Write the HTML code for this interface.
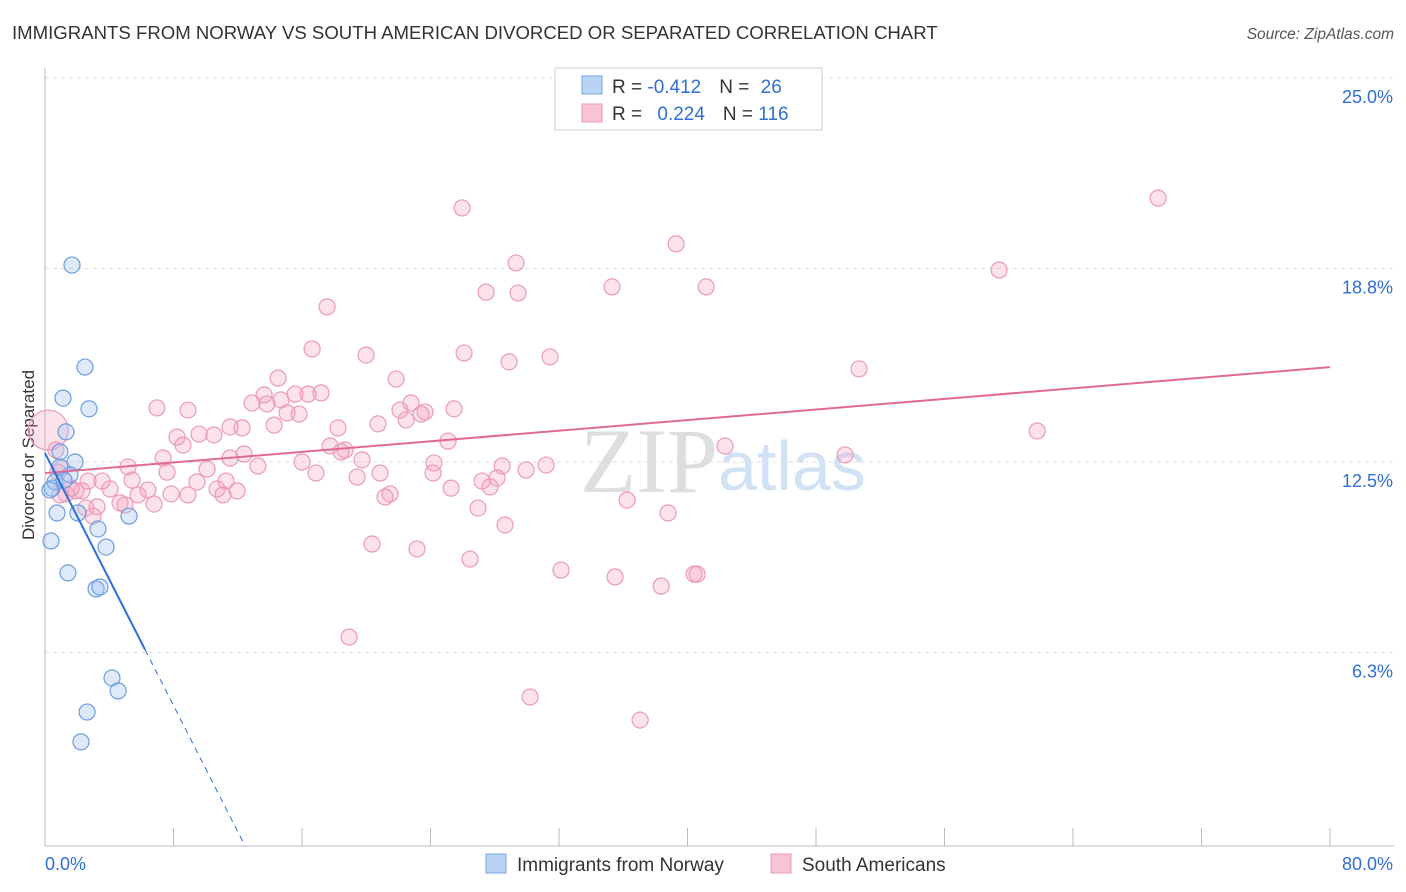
<!DOCTYPE html>
<html><head><meta charset="utf-8"><style>
body{margin:0;background:#fff;font-family:"Liberation Sans",sans-serif;}
svg{display:block}
</style></head><body>
<svg id="chart" width="1406" height="892" font-family="Liberation Sans, sans-serif">
<text x="12" y="39" font-size="18.6" fill="#333">IMMIGRANTS FROM NORWAY VS SOUTH AMERICAN DIVORCED OR SEPARATED CORRELATION CHART</text>
<text x="1394" y="39" font-size="15.5" fill="#555" font-style="italic" text-anchor="end">Source: ZipAtlas.com</text>
<text x="718" y="492" font-size="92" fill="#dedede" text-anchor="end" font-family="Liberation Serif, serif">ZIP</text>
<text x="718" y="490" font-size="70" fill="#d2e2f5">atlas</text>
<text transform="translate(34,455) rotate(-90)" font-size="17" fill="#333" text-anchor="middle">Divorced or Separated</text>
<g id="grid"></g><g id="axes"></g><g id="pink"></g><g id="blue"></g><g id="lines"></g>
<g>
<rect x="555" y="68" width="267" height="62" fill="#fff" stroke="#ccc"/>
<rect x="582" y="76" width="20" height="18" fill="#b9d3f5" stroke="#7aa6e2"/>
<rect x="582" y="104" width="20" height="18" fill="#f9c3d4" stroke="#e99ab6"/>
<text x="612" y="93" font-size="19" fill="#333">R = <tspan fill="#2f6fd6">-0.412</tspan><tspan dx="18">N = </tspan><tspan dx="6" fill="#2f6fd6">26</tspan></text>
<text x="612" y="120" font-size="19" fill="#333">R = <tspan dx="10" fill="#2f6fd6">0.224</tspan><tspan dx="18">N = </tspan><tspan fill="#2f6fd6">116</tspan></text>
</g>
<g>
<rect x="486" y="854" width="20" height="19" fill="#b9d3f5" stroke="#7aa6e2"/>
<text x="517" y="871" font-size="19" fill="#333">Immigrants from Norway</text>
<rect x="771" y="854" width="20" height="19" fill="#f9c3d4" stroke="#e99ab6"/>
<text x="802" y="871" font-size="19" fill="#333">South Americans</text>
</g>
</svg>
<script>
const blueX=[1.68,2.49,1.12,2.74,1.31,1.87,0.93,1.56,0.44,0.62,0.31,0.75,2.05,5.23,3.30,0.37,3.80,1.43,3.18,3.42,4.17,4.55,2.62,2.24,0.93,1.18];
const blueY=[18.91,15.59,14.58,14.23,13.48,12.50,12.83,12.08,11.65,11.85,11.59,10.84,10.84,10.74,10.32,9.93,9.73,8.89,8.37,8.43,5.47,5.05,4.36,3.39,12.34,11.91];
const pinkX=[25.97,69.30,39.29,29.33,59.40,27.46,29.45,35.30,41.16,17.56,16.63,19.99,26.09,28.89,31.44,50.68,21.86,14.51,13.64,15.57,16.38,17.19,12.89,14.69,13.82,22.79,6.97,8.90,22.10,23.66,25.47,23.41,15.07,15.82,20.73,22.48,18.24,11.52,12.27,14.26,61.77,9.59,10.52,8.22,8.59,25.09,17.75,18.68,42.34,18.43,12.39,11.52,7.35,49.81,16.00,19.74,24.22,31.20,5.17,13.26,10.09,20.86,7.60,16.87,28.46,29.95,24.16,19.43,27.21,28.14,27.71,25.28,5.42,3.55,9.46,11.27,4.05,6.41,10.71,8.90,11.96,7.85,1.31,1.93,5.79,0.93,21.48,21.17,36.24,4.67,6.79,4.98,3.24,2.55,2.30,11.08,26.96,38.79,2.99,28.64,20.36,23.16,26.46,32.13,35.49,40.41,40.60,38.36,18.93,30.20,37.05,0.2,0.68,1.06,1.62,0.81,2.68];
const pinkY=[20.77,21.09,19.60,18.98,18.75,18.03,18.00,18.20,18.20,17.55,16.18,15.98,16.05,15.76,15.92,15.53,15.20,15.23,14.68,14.71,14.71,14.75,14.42,14.52,14.39,14.42,14.26,14.19,14.19,14.13,14.23,14.06,14.10,14.06,13.74,13.87,13.61,13.64,13.61,13.70,13.51,13.41,13.38,13.31,13.05,13.18,13.02,12.89,13.02,12.83,12.76,12.63,12.63,12.73,12.50,12.57,12.47,12.40,12.34,12.37,12.27,12.14,12.17,12.14,12.37,12.24,12.14,12.01,11.88,11.98,11.69,11.65,11.91,11.88,11.85,11.88,11.62,11.59,11.62,11.43,11.56,11.46,11.46,11.56,11.43,11.43,11.46,11.36,11.26,11.17,11.13,11.10,11.04,11.00,11.56,11.43,11.00,10.84,10.74,10.45,9.83,9.67,9.34,8.98,8.76,8.85,8.85,8.46,6.80,4.85,4.10,13.54,12.89,12.30,11.65,12.17,11.88];
const yTicks=[25.0,18.8,12.5,6.3];
const yTickLabels=["25.0%","18.8%","12.5%","6.3%"];
const xTickLabels=["0.0%","80.0%"];
const blueTrend=[12.79,-1.027];
const pinkTrend=[12.14,0.0431];
const NS="http://www.w3.org/2000/svg";
const X=v=>45+v*1285/80, Y=v=>846-v*768/25;
function mk(t,a,p){const e=document.createElementNS(NS,t);for(const k in a)e.setAttribute(k,a[k]);p.appendChild(e);return e;}
const grid=document.getElementById('grid'),axes=document.getElementById('axes');
yTicks.forEach((t,i)=>{
 const l=mk('line',{x1:45,x2:1394,y1:Y(t),y2:Y(t),stroke:'#ddd','stroke-dasharray':'4,4'},grid);
 
 
 const tx=mk('text',{x:1393,y:Y(t)+25,'font-size':18,fill:'#2f6fd6','text-anchor':'end'},axes);
 tx.textContent=yTickLabels[i];
 
 
});
const ax=mk('line',{x1:45,x2:1394,y1:846,y2:846,stroke:'#bbb'},axes);


const ay=mk('line',{x1:45,x2:45,y1:68,y2:846,stroke:'#bbb'},axes);


for(let i=0;i<=10;i++){const t=mk('line',{x1:X(i*8),x2:X(i*8),y1:828,y2:846,stroke:'#bbb'},axes);
 
 }
[[0,45,'start'],[80,1393,'end']].forEach((d,i)=>{const t=mk('text',{x:d[1],y:870,'font-size':18,fill:'#2f6fd6','text-anchor':d[2]},axes);
 t.textContent=xTickLabels[i];
 
 });
const pg=document.getElementById('pink');
pinkX.forEach((x,i)=>{const c=mk('circle',{cx:X(x),cy:Y(pinkY[i]),r:(i==pinkX.length-6?20:8),fill:'rgba(244,160,188,0.3)',stroke:'#eb9ab7','stroke-width':1.2},pg);
 
 });
const bg=document.getElementById('blue');
blueX.forEach((x,i)=>{const c=mk('circle',{cx:X(x),cy:Y(blueY[i]),r:8,fill:'rgba(160,195,240,0.35)',stroke:'#6c9de0','stroke-width':1.2},bg);
 
 });
const lg=document.getElementById('lines');
const pl=mk('line',{x1:X(0),y1:Y(pinkTrend[0]),x2:X(80),y2:Y(pinkTrend[0]+80*pinkTrend[1]),stroke:'#e06a96','stroke-width':2},lg);


const bx1=6.23, bx2=-blueTrend[0]/blueTrend[1];
const bl=mk('line',{x1:X(0),y1:Y(blueTrend[0]),x2:X(bx1),y2:Y(blueTrend[0]+bx1*blueTrend[1]),stroke:'#2a6fdb','stroke-width':2},lg);


const bd=mk('line',{x1:X(bx1),y1:Y(blueTrend[0]+bx1*blueTrend[1]),x2:X(bx2),y2:Y(0),stroke:'#2a6fdb','stroke-width':1,'stroke-dasharray':'6,5'},lg);


</script>
</body></html>
